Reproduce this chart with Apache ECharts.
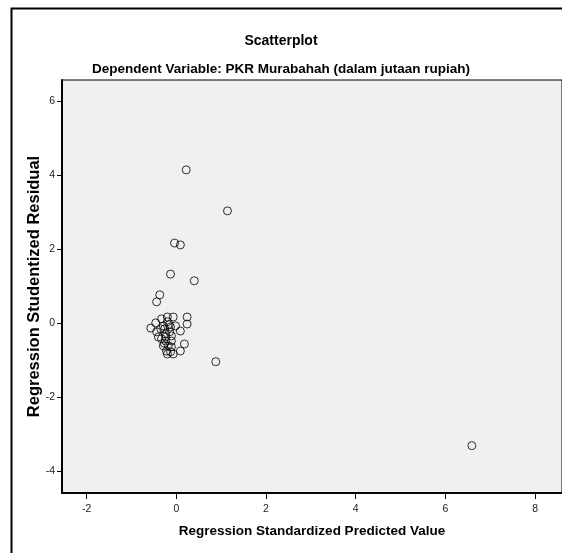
<!DOCTYPE html>
<html>
<head>
<meta charset="utf-8">
<script src="https://cdn.jsdelivr.net/npm/echarts@6/dist/echarts.min.js"></script>
<style>
  html, body { margin: 0; padding: 0; background: #fff; }
  #chart { width: 562px; height: 553px; }
</style>
</head>
<body>
<div id="chart"></div>
<script>
// standardized predicted value (x) / studentized residual (y)
var predicted = [0.22, 1.14, -0.04, 0.09, -0.13, 0.40, -0.37, -0.44, 0.88, 6.59,
  -0.57, -0.46, -0.33, -0.20, -0.07, 0.24, 0.24, -0.02, 0.09, -0.20,
  -0.29, -0.35, -0.13, -0.44, -0.40, -0.33, -0.24, -0.11, -0.29, -0.18,
  -0.22, -0.13, -0.07, -0.20, 0.09, 0.18, -0.24, -0.11, -0.15, -0.24,
  -0.11, -0.26, -0.16, -0.27];
var residual = [4.14, 3.03, 2.16, 2.11, 1.32, 1.14, 0.76, 0.57, -1.05, -3.32,
  -0.14, 0.00, 0.11, 0.16, 0.16, 0.16, -0.03, -0.08, -0.22, 0.03,
  -0.08, -0.16, -0.11, -0.24, -0.38, -0.43, -0.49, -0.49, -0.62, -0.62,
  -0.76, -0.78, -0.84, -0.84, -0.76, -0.57, -0.30, -0.35, -0.24, -0.38,
  -0.65, -0.16, -0.05, -0.55];
var xTicks = [-2, 0, 2, 4, 6, 8];
var yTicks = [-4, -2, 0, 2, 4, 6];

var points = predicted.map(function (v, i) { return [v, residual[i]]; });

var sans = "'Liberation Sans', Arial, sans-serif";

var chart = echarts.init(document.getElementById('chart'));
var option = {
  animation: false,
  backgroundColor: '#fff',
  title: [
    { text: 'Scatterplot', left: 'center', top: 29,
      textStyle: { fontSize: 14, fontWeight: 'bold', color: '#000', fontFamily: sans } },
    { text: 'Dependent Variable: PKR Murabahah (dalam jutaan rupiah)', left: 'center', top: 57,
      textStyle: { fontSize: 13.5, fontWeight: 'bold', color: '#000', fontFamily: sans } }
  ],
  graphic: [
    { type: 'rect', left: 9, top: 6, z: -1,
      shape: { width: 620, height: 620 },
      style: { fill: 'none', stroke: '#000', lineWidth: 2 } }
  ],
  grid: {
    left: 62, top: 80, right: -7, bottom: 60,
    show: true, backgroundColor: '#f0f0f0', borderColor: '#000', borderWidth: 1
  },
  xAxis: {
    type: 'value', min: -2.55, max: 8.6,
    name: 'Regression Standardized Predicted Value',
    nameLocation: 'middle', nameGap: 31,
    nameTextStyle: { fontSize: 13.5, fontWeight: 'bold', color: '#000', fontFamily: sans },
    splitLine: { show: false },
    axisLine: { onZero: false, lineStyle: { color: '#000', width: 2 } },
    axisTick: { show: true, length: 6, customValues: xTicks, lineStyle: { color: '#000' } },
    axisLabel: { customValues: xTicks, margin: 11, fontSize: 10.5, color: '#222', fontFamily: sans }
  },
  yAxis: {
    type: 'value', min: -4.6, max: 6.57,
    name: 'Regression Studentized Residual',
    nameLocation: 'middle', nameGap: 19, nameMoveOverlap: false,
    nameTextStyle: { fontSize: 16.5, fontWeight: 'bold', color: '#000', fontFamily: sans },
    splitLine: { show: false },
    axisLine: { onZero: false, lineStyle: { color: '#000', width: 2 } },
    axisTick: { show: true, length: 5, customValues: yTicks, lineStyle: { color: '#000' } },
    axisLabel: { customValues: yTicks, margin: 7, fontSize: 10.5, color: '#222', fontFamily: sans }
  },
  series: [
    {
      type: 'scatter',
      data: points,
      symbol: 'circle',
      symbolSize: 8,
      itemStyle: { color: 'rgba(0,0,0,0)', borderColor: '#000', borderWidth: 1 }
    }
  ]
};
chart.setOption(option);
</script>
</body>
</html>
